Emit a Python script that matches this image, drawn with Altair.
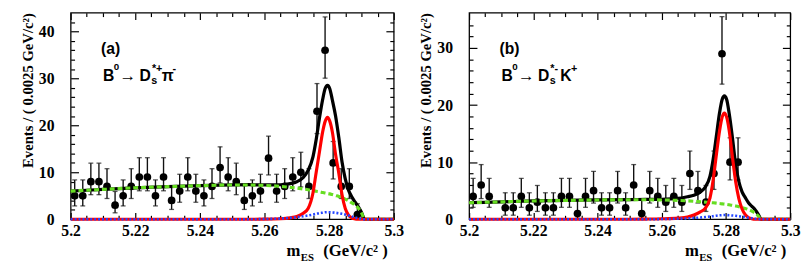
import altair as alt
import pandas as pd

# ---------------- data ----------------
bin_x = [5.20125, 5.20375, 5.20625, 5.20875, 5.21125, 5.21375, 5.21625, 5.21875,
         5.22125, 5.22375, 5.22625, 5.22875, 5.23125, 5.23375, 5.23625, 5.23875,
         5.24125, 5.24375, 5.24625, 5.24875, 5.25125, 5.25375, 5.25625, 5.25875,
         5.26125, 5.26375, 5.26625, 5.26875, 5.27125, 5.27375, 5.27625, 5.27875,
         5.28125, 5.28375, 5.28625, 5.28875]

counts_a = [5, 5, 8, 8, 7, 3, 5, 7, 9, 9, 5, 9, 4, 6, 9, 6, 5, 7, 11, 9,
            8, 4, 5, 6, 13, 6, 7, 9, 10, 7, 23, 36, 12, 7, 7, 1]
counts_b = [4, 6, 4, 0, 2, 2, 4, 2, 3, 2, 2, 4, 4, 1, 4, 5, 2, 2, 5, 2,
            6, 1, 5, 4, 3, 4, 3, 8, 5, 3, 8, 29, 10, 10, 0, 0]

# Poisson (68%) error-bar ends, as drawn
err_low = {1: 0.17, 2: 0.71, 3: 1.37, 4: 2.09, 5: 2.84, 6: 3.62, 7: 4.42, 8: 5.23,
           9: 6.06, 10: 6.89, 11: 7.73, 12: 8.58, 13: 9.44, 23: 18.25, 29: 23.67, 36: 30.05}
err_high = {1: 3.30, 2: 4.64, 3: 5.92, 4: 7.16, 5: 8.38, 6: 9.58, 7: 10.77, 8: 11.95,
            9: 13.11, 10: 14.27, 11: 15.42, 12: 16.56, 13: 17.70, 23: 28.9, 29: 35.5, 36: 43.1}

curve_x = [5.200, 5.210, 5.220, 5.230, 5.240, 5.250, 5.255, 5.260, 5.265, 5.268,
           5.270, 5.272, 5.2735, 5.275, 5.276, 5.277, 5.278, 5.2788, 5.2795, 5.2802,
           5.281, 5.282, 5.283, 5.284, 5.285, 5.286, 5.287, 5.288, 5.289, 5.290,
           5.291, 5.295, 5.300]

total_a = [6.0, 6.35, 6.7, 6.95, 7.15, 7.3, 7.35, 7.3, 7.35, 7.6,
           8.0, 8.9, 10.4, 13.3, 17.0, 21.5, 25.5, 27.9, 28.5, 27.8,
           25.4, 22.0, 17.4, 12.2, 8.6, 6.2, 4.8, 3.7, 2.7, 1.5,
           0, 0, 0]
signal_a = [0, 0, 0, 0, 0, 0, 0, 0.02, 0.1, 0.3,
            0.6, 1.3, 2.3, 5.6, 10.0, 14.3, 18.6, 20.9, 21.7, 20.9,
            18.6, 13.8, 9.8, 5.2, 2.3, 0.9, 0.3, 0.08, 0, 0,
            0, 0, 0]
comb_a = [6.0, 6.35, 6.7, 6.95, 7.15, 7.3, 7.3, 7.2, 7.0, 6.8,
          6.65, 6.45, 6.3, 6.1, 5.95, 5.85, 5.7, 5.6, 5.5, 5.4,
          5.25, 5.05, 4.85, 4.6, 4.3, 3.95, 3.5, 3.1, 2.4, 1.4,
          0, 0, 0]
peak_a = [0, 0, 0, 0, 0, 0, 0, 0.05, 0.15, 0.3,
          0.45, 0.65, 0.8, 1.0, 1.15, 1.3, 1.4, 1.48, 1.5, 1.48,
          1.45, 1.38, 1.28, 1.15, 1.0, 0.8, 0.6, 0.4, 0.2, 0.05,
          0, 0, 0]

total_b = [2.9, 3.05, 3.2, 3.3, 3.4, 3.45, 3.47, 3.5, 3.65, 3.95,
           4.2, 4.8, 5.6, 7.5, 10.5, 14.6, 18.7, 21.0, 21.6, 21.0,
           18.5, 14.3, 9.6, 6.6, 4.8, 3.8, 2.9, 2.3, 1.7, 0.9,
           0, 0, 0]
signal_b = [0, 0, 0, 0, 0, 0, 0.03, 0.08, 0.2, 0.4,
            0.75, 1.3, 1.9, 3.7, 6.9, 11.3, 15.5, 17.9, 18.6, 17.9,
            15.5, 10.9, 6.6, 3.6, 1.8, 0.8, 0.3, 0.1, 0, 0,
            0, 0, 0]
comb_b = [2.9, 3.05, 3.2, 3.3, 3.38, 3.42, 3.42, 3.38, 3.3, 3.22,
          3.15, 3.07, 3.0, 2.93, 2.88, 2.82, 2.75, 2.7, 2.65, 2.6,
          2.53, 2.44, 2.33, 2.2, 2.05, 1.88, 1.68, 1.43, 1.1, 0.6,
          0, 0, 0]
peak_b = [0, 0, 0, 0, 0, 0, 0, 0.03, 0.1, 0.15,
          0.22, 0.3, 0.38, 0.47, 0.54, 0.62, 0.68, 0.72, 0.74, 0.73,
          0.7, 0.65, 0.6, 0.52, 0.45, 0.37, 0.28, 0.19, 0.1, 0.03,
          0, 0, 0]

x_major = [5.2, 5.22, 5.24, 5.26, 5.28, 5.3]
x_minor = [5.205, 5.21, 5.215, 5.225, 5.23, 5.235, 5.245, 5.25, 5.255,
           5.265, 5.27, 5.275, 5.285, 5.29, 5.295]
y_major_a = [0, 10, 20, 30, 40]
y_minor_a = [2, 4, 6, 8, 12, 14, 16, 18, 22, 24, 26, 28, 32, 34, 36, 38, 42]
y_major_b = [0, 10, 20, 30]
y_minor_b = [2, 4, 6, 8, 12, 14, 16, 18, 22, 24, 26, 28, 32, 34]

Y_TITLE = "Events / ( 0.0025 GeV/c²)"

# ---------------- styling ----------------
SERIF = "Liberation Serif"
SANS = "Liberation Sans"
H = 211


def tick_axis(orient, values, size):
    return alt.Axis(orient=orient, values=values, labels=False, domain=False,
                    grid=False, title=None, ticks=True,
                    tickSize={"expr": str(-size)}, tickColor="black", tickWidth=1.2)


def text_layer(txt, px, py, size, font=SANS):
    return alt.Chart(pd.DataFrame({"k": [0]})).mark_text(
        text=txt, font=font, fontSize=size, fontWeight="bold", color="black",
        align="left", baseline="alphabetic"
    ).encode(x=alt.value(px), y=alt.value(py))


def panel(counts, total, signal, comb, peak, ydom, ymaj, ymin, width, letter, sup_d, part2, sup2):
    pts = pd.DataFrame({"x": bin_x, "n": counts})
    pts = pts[pts["n"] > 0].copy()
    pts["lo"] = [err_low[n] for n in pts["n"]]
    pts["hi"] = [err_high[n] for n in pts["n"]]
    cur = pd.DataFrame({"x": curve_x, "total": total, "signal": signal,
                        "comb": comb, "peak": peak})

    xs = alt.Scale(domain=[5.2, 5.3], nice=False, zero=False)
    ys = alt.Scale(domain=ydom, nice=False, zero=False)

    lab_x = alt.Axis(orient="bottom", values=x_major, format=".2~f", labelFlush=False,
                     ticks=False, domain=False, grid=False, title=None,
                     labelFont=SERIF, labelFontWeight="bold", labelFontSize=16,
                     labelColor="black", labelPadding=4)
    lab_y = alt.Axis(orient="left", values=ymaj, format="d", ticks=False, domain=False,
                     grid=False, title=Y_TITLE, titleFont=SERIF, titleFontWeight="bold",
                     titleFontSize=15, titleColor="black", titleAnchor="end",
                     titlePadding=3, labelFont=SERIF, labelFontWeight="bold",
                     labelFontSize=16, labelColor="black", labelPadding=17)

    base = alt.Chart(pts)
    err = base.mark_rule(color="#111111", strokeWidth=1.4).encode(
        x=alt.X("x:Q", scale=xs, axis=lab_x),
        y=alt.Y("lo:Q", scale=ys, axis=lab_y),
        y2="hi:Q")
    cap_lo = base.mark_tick(orient="horizontal", size=5, thickness=1.3, color="#111111").encode(
        x=alt.X("x:Q", scale=xs, axis=tick_axis("bottom", x_major, 7)),
        y=alt.Y("lo:Q", scale=ys, axis=tick_axis("left", ymaj, 8)))
    cap_hi = base.mark_tick(orient="horizontal", size=5, thickness=1.3, color="#111111").encode(
        x=alt.X("x:Q", scale=xs, axis=tick_axis("bottom", x_minor, 4)),
        y=alt.Y("hi:Q", scale=ys, axis=tick_axis("left", ymin, 4)))
    dots = base.mark_circle(size=62, color="black", opacity=1).encode(
        x=alt.X("x:Q", scale=xs, axis=tick_axis("top", x_major, 7)),
        y=alt.Y("n:Q", scale=ys, axis=tick_axis("right", ymaj, 8)))

    cb = alt.Chart(cur)
    line_total = cb.mark_line(color="black", strokeWidth=3.3, interpolate="monotone").encode(
        x=alt.X("x:Q", scale=xs, axis=tick_axis("top", x_minor, 4)),
        y=alt.Y("total:Q", scale=ys, axis=tick_axis("right", ymin, 4)))
    line_comb = cb.mark_line(color="#66dd22", strokeWidth=3.2, strokeDash=[5, 3],
                             interpolate="monotone").encode(
        x=alt.X("x:Q", scale=xs, axis=None), y=alt.Y("comb:Q", scale=ys, axis=None))
    line_sig = cb.mark_line(color="#ff0000", strokeWidth=3.2, interpolate="monotone").encode(
        x=alt.X("x:Q", scale=xs, axis=None), y=alt.Y("signal:Q", scale=ys, axis=None))
    line_peak = cb.mark_line(color="#2244ff", strokeWidth=2.6, strokeDash=[2, 2],
                             interpolate="monotone").encode(
        x=alt.X("x:Q", scale=xs, axis=None), y=alt.Y("peak:Q", scale=ys, axis=None))

    texts = [
        text_layer(letter, 31, 42.5, 16),
        text_layer("B", 33, 69.5, 16),
        text_layer("0", 44, 59, 10),
        text_layer("→", 50, 69.5, 17),
        text_layer("D", 70.3, 69.5, 16),
        text_layer("s", 82.3, 72.5, 11),
        text_layer(sup_d, 83, 60.5, 11),
        text_layer(part2, 93, 69.5, 16),
        text_layer(sup2, 104, 60.5, 11),
        text_layer("m", 220.5, 248.5, 17, SERIF),
        text_layer("ES", 235, 253.5, 11, SERIF),
        text_layer("(GeV/c² )", 258, 248.5, 17, SERIF),
    ]

    return alt.layer(err, cap_lo, cap_hi, dots, line_total, line_comb, line_sig,
                     line_peak, *texts).resolve_axis(x="independent", y="independent"
                     ).properties(width=width, height=H)


pa = panel(counts_a, total_a, signal_a, comb_a, peak_a, [0, 44], y_major_a, y_minor_a,
           330, "(a)", "*+", "π", "-")
pb = panel(counts_b, total_b, signal_b, comb_b, peak_b, [0, 36.2], y_major_b, y_minor_b,
           328, "(b)", "*-", "K", "+")

chart = alt.hconcat(pa, pb, spacing=14).properties(
    padding={"left": 12, "top": 0, "right": 0, "bottom": 0},
    background="white",
).configure_view(stroke="black", strokeWidth=1.3)

chart.save("out.html", embed_options={"renderer": "svg", "actions": False})
